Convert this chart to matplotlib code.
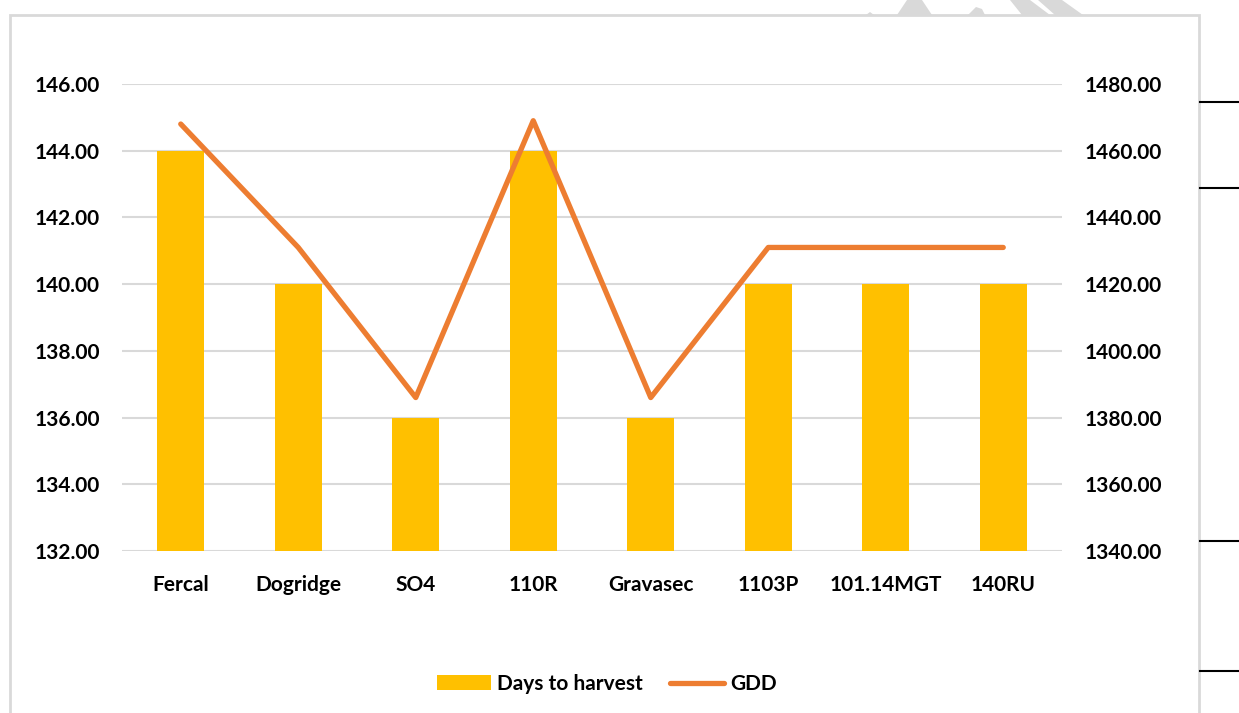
import numpy as np
import matplotlib
matplotlib.use("Agg")
import matplotlib.pyplot as plt
from matplotlib.lines import Line2D
from matplotlib.patches import Rectangle, Polygon

# data
rootstocks = ["Fercal", "Dogridge", "SO4", "110R", "Gravasec", "1103P", "101.14MGT", "140RU"]
days_to_harvest = [144, 140, 136, 144, 136, 140, 140, 140]
gdd = [1468, 1431, 1386, 1469, 1386, 1431, 1431, 1431]

plt.rcParams['font.family'] = ['Lato', 'DejaVu Sans']
plt.rcParams['font.weight'] = 'bold'

W, H = 1239, 713
fig = plt.figure(figsize=(W / 100, H / 100), dpi=100)

def px(pts):
    return [(a / W, 1 - b / H) for a, b in pts]

# gray watermark strokes peeking above the chart frame
for poly in [[(866, 15), (870, 12), (874, 15)],
             [(897, 15), (907, 0), (922, 0), (932, 15)],
             [(968, 15), (976, 7), (982, 9), (985, 15)],
             [(1022, 15), (1010, 0), (1030, 0), (1050, 15)],
             [(1055, 15), (1038, 0), (1062, 0), (1083, 15)]]:
    fig.add_artist(Polygon(px(poly), closed=True, facecolor='#d9d9d9', edgecolor='none', zorder=0))
# chart frame
fig.add_artist(Rectangle((10 / W, -0.01), (1199 - 10) / W, 1 - 15 / H + 0.01, facecolor='white',
                         edgecolor='#d9d9d9', lw=2, zorder=1))
# page lines to the right of the chart
for yy in [102, 188, 541, 671]:
    fig.add_artist(Line2D([1200 / W, 1], [1 - yy / H, 1 - yy / H], color='black', lw=1.5, zorder=1))

ax = fig.add_axes([122 / W, 1 - 551 / H, (1062 - 122) / W, (551 - 84) / H])
ax.set_zorder(3)
ax.patch.set_alpha(0)
x = np.arange(len(rootstocks))
bars = ax.bar(x, days_to_harvest, width=0.4, color='#ffc000', zorder=2, label='Days to harvest')
ax.set_ylim(132, 146)
ax.set_xlim(-0.5, len(rootstocks) - 0.5)
ax.set_yticks(np.arange(132, 147, 2))
ax.set_yticklabels([f"{v:.2f}" for v in np.arange(132, 147, 2)], fontweight='bold')
ax.set_xticks(x)
ax.set_xticklabels(rootstocks, fontweight='bold')
ax.grid(axis='y', color='#d9d9d9', lw=1.5, zorder=0)
ax.set_axisbelow(True)
for s in ax.spines.values():
    s.set_visible(False)
ax.tick_params(axis='both', length=0, labelsize=15, pad=16)
ax.tick_params(axis='x', pad=17)

ax2 = ax.twinx()
ln, = ax2.plot(x, gdd, color='#ed7d31', lw=3.8, solid_capstyle='round', solid_joinstyle='round',
               zorder=4, label='GDD')
ax2.set_ylim(1340, 1480)
ax2.set_yticks(np.arange(1340, 1481, 20))
ax2.set_yticklabels([f"{v:.2f}" for v in np.arange(1340, 1481, 20)], fontweight='bold')
for s in ax2.spines.values():
    s.set_visible(False)
ax2.tick_params(axis='y', length=0, labelsize=15, pad=16)

fig.legend([bars, ln], ['Days to harvest', 'GDD'], loc='center', bbox_to_anchor=(0.49, 1 - 684 / H),
           ncol=2, frameon=False, prop={'size': 15, 'weight': 'bold'}, handlelength=2.6,
           handleheight=0.7, columnspacing=1.3, handletextpad=0.3)

fig.savefig('out.png', dpi=100)
